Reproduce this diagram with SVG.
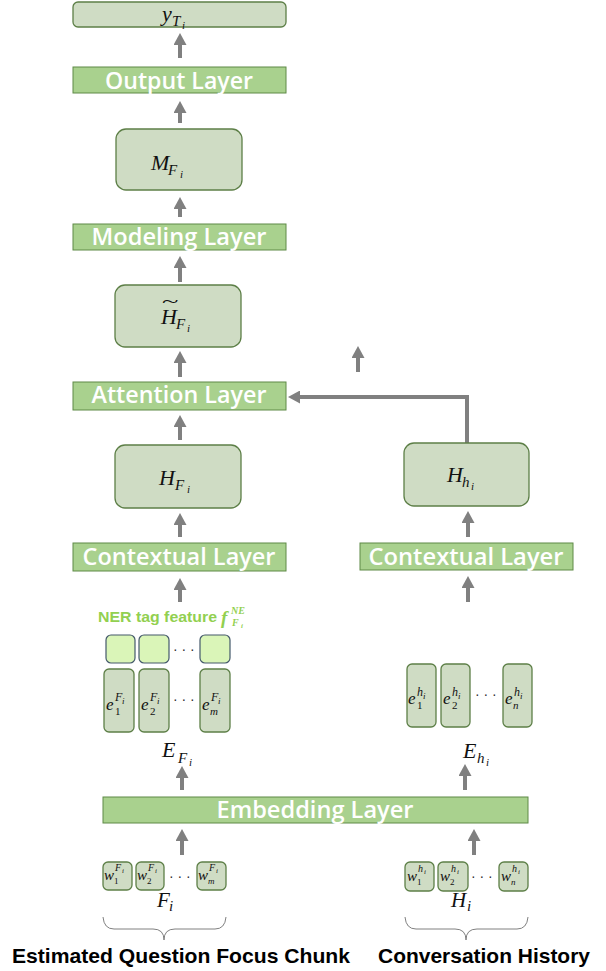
<svg xmlns="http://www.w3.org/2000/svg" width="606" height="971" viewBox="0 0 606 971">
<defs>
<style>
.lay rect{fill:#a9d18e;stroke:#5f8a47;stroke-width:1}
.lay text{fill:#fff;font-family:"Open Sans","Noto Sans",sans-serif;font-weight:600;font-size:24px;text-anchor:middle}
.nd{fill:#cfdcc4;stroke:#5d7f47;stroke-width:1.3}
.ner{fill:#daf5b8;stroke:#44596b;stroke-width:1.2}
.m{font-family:"Liberation Serif","DejaVu Serif",serif;font-style:italic;fill:#111}
.up{font-family:"Liberation Serif","DejaVu Serif",serif;fill:#111}
.dots{font-family:"Liberation Sans",sans-serif;font-size:14px;fill:#333}
.arr{stroke:#808080;stroke-width:4;fill:none;marker-end:url(#ah)}
.brace{stroke:#808080;stroke-width:1;fill:none}
.cap{font-family:"Liberation Sans",Arial,sans-serif;font-weight:bold;font-size:21px;fill:#000}
.g{font-family:"Liberation Serif",serif;font-style:italic;font-weight:bold;fill:#92d050}
</style>
<marker id="ah" markerUnits="userSpaceOnUse" markerWidth="12" markerHeight="13" viewBox="0 0 12 13" refX="1" refY="6.5" orient="auto">
<path d="M0,0 L12,6.5 L0,13 z" fill="#808080"/>
</marker>
</defs>
<rect width="606" height="971" fill="#fff"/>

<g id="connectors">
<line class="arr" x1="180" y1="58" x2="180" y2="44"/>
<line class="arr" x1="180" y1="123" x2="180" y2="112"/>
<line class="arr" x1="180" y1="217" x2="180" y2="208"/>
<line class="arr" x1="180" y1="282" x2="180" y2="267"/>
<line class="arr" x1="180" y1="377" x2="180" y2="362"/>
<line class="arr" x1="180" y1="440" x2="180" y2="426"/>
<line class="arr" x1="180" y1="537" x2="180" y2="524"/>
<line class="arr" x1="180" y1="602" x2="180" y2="589"/>
<line class="arr" x1="182" y1="790" x2="182" y2="777"/>
<line class="arr" x1="182" y1="855" x2="182" y2="840"/>
<line class="arr" x1="465" y1="790" x2="465" y2="775"/>
<line class="arr" x1="474" y1="855" x2="474" y2="840"/>
<line class="arr" x1="468" y1="537" x2="468" y2="522"/>
<line class="arr" x1="468" y1="602" x2="468" y2="587"/>
<line class="arr" x1="358" y1="372" x2="358" y2="357"/>
<polyline class="arr" points="467,443 467,397 299,397"/>
</g>

<g id="yT">
<rect class="nd" x="73" y="2" width="213" height="25" rx="5"/>
<text class="m" x="162" y="21" font-size="22">y</text>
<text class="m" x="172" y="26" font-size="15">T</text>
<text class="m" x="182" y="29" font-size="11">i</text>
</g>

<g id="output" class="lay">
<rect x="73" y="67" width="213" height="26"/>
<text x="179" y="89" textLength="148" lengthAdjust="spacingAndGlyphs">Output Layer</text>
</g>

<g id="MF">
<rect class="nd" x="116" y="129" width="126" height="61" rx="10"/>
<text class="m" x="151" y="170" font-size="22">M</text>
<text class="m" x="168" y="175" font-size="15">F</text>
<text class="m" x="180" y="178" font-size="11">i</text>
</g>

<g id="modeling" class="lay">
<rect x="73" y="224" width="213" height="26"/>
<text x="179" y="245" textLength="175" lengthAdjust="spacingAndGlyphs">Modeling Layer</text>
</g>

<g id="HtF">
<rect class="nd" x="115" y="285" width="126" height="62" rx="10"/>
<text class="up" x="0" y="0" font-size="16" transform="translate(162 307) scale(1.9 1)">~</text>
<text class="m" x="161" y="324" font-size="22">H</text>
<text class="m" x="176" y="329" font-size="15">F</text>
<text class="m" x="187" y="332" font-size="11">i</text>
</g>

<g id="attention" class="lay">
<rect x="73" y="382" width="213" height="28"/>
<text x="179" y="403" textLength="175" lengthAdjust="spacingAndGlyphs">Attention Layer</text>
</g>

<g id="HF">
<rect class="nd" x="115" y="445" width="126" height="63" rx="10"/>
<text class="m" x="159" y="485" font-size="22">H</text>
<text class="m" x="175" y="490" font-size="15">F</text>
<text class="m" x="187" y="493" font-size="11">i</text>
</g>

<g id="ctxL" class="lay">
<rect x="73" y="543" width="213" height="28"/>
<text x="179" y="565" textLength="193" lengthAdjust="spacingAndGlyphs">Contextual Layer</text>
</g>

<g id="Hh">
<rect class="nd" x="404" y="443" width="125" height="63" rx="10"/>
<text class="m" x="447" y="482" font-size="22">H</text>
<text class="m" x="462" y="487" font-size="15">h</text>
<text class="m" x="471" y="490" font-size="11">i</text>
</g>

<g id="ctxR" class="lay">
<rect x="360" y="543" width="213" height="27"/>
<text x="466" y="565" textLength="195" lengthAdjust="spacingAndGlyphs">Contextual Layer</text>
</g>

<g id="ner">
<text x="98" y="622" font-family="Liberation Sans,Arial,sans-serif" font-weight="bold" font-size="15" fill="#92d050" textLength="119" lengthAdjust="spacingAndGlyphs">NER tag feature</text>
<text class="g" x="221" y="624" font-size="19">f</text>
<text class="g" x="231" y="614" font-size="10">NE</text>
<text class="g" x="232" y="626" font-size="10">F</text>
<text class="g" x="241" y="628" font-size="7">i</text>
<rect class="ner" x="106" y="635" width="29" height="28" rx="5"/>
<rect class="ner" x="139" y="635" width="30" height="28" rx="5"/>
<rect class="ner" x="200" y="635" width="30" height="28" rx="5"/>
<text class="dots" x="173" y="654">· · ·</text>
</g>

<g id="eF">
<rect class="nd" x="104" y="669" width="30" height="63" rx="5"/>
<rect class="nd" x="139" y="669" width="30" height="63" rx="5"/>
<rect class="nd" x="200" y="669" width="30" height="63" rx="5"/>
<text class="m" x="106" y="710" font-size="17">e</text>
<text class="m" x="115" y="701" font-size="12">F</text>
<text class="m" x="122" y="704" font-size="9">i</text>
<text class="up" x="115" y="715" font-size="11">1</text>
<text class="m" x="141" y="710" font-size="17">e</text>
<text class="m" x="150" y="701" font-size="12">F</text>
<text class="m" x="157" y="704" font-size="9">i</text>
<text class="up" x="150" y="715" font-size="11">2</text>
<text class="m" x="202" y="710" font-size="17">e</text>
<text class="m" x="211" y="701" font-size="12">F</text>
<text class="m" x="218" y="704" font-size="9">i</text>
<text class="m" x="210" y="715" font-size="11">m</text>
<text class="dots" x="173" y="704">· · ·</text>
<text class="m" x="162" y="757" font-size="22">E</text>
<text class="m" x="178" y="763" font-size="15">F</text>
<text class="m" x="189" y="766" font-size="11">i</text>
</g>

<g id="eh">
<rect class="nd" x="407" y="664" width="29" height="63" rx="5"/>
<rect class="nd" x="441" y="664" width="29" height="63" rx="5"/>
<rect class="nd" x="503" y="664" width="29" height="63" rx="5"/>
<text class="m" x="408" y="704" font-size="17">e</text>
<text class="m" x="417" y="696" font-size="12">h</text>
<text class="m" x="423" y="699" font-size="9">i</text>
<text class="up" x="417" y="709" font-size="11">1</text>
<text class="m" x="443" y="704" font-size="17">e</text>
<text class="m" x="452" y="696" font-size="12">h</text>
<text class="m" x="458" y="699" font-size="9">i</text>
<text class="up" x="452" y="709" font-size="11">2</text>
<text class="m" x="505" y="704" font-size="17">e</text>
<text class="m" x="514" y="696" font-size="12">h</text>
<text class="m" x="520" y="699" font-size="9">i</text>
<text class="m" x="513" y="709" font-size="11">n</text>
<text class="dots" x="475" y="699">· · ·</text>
<text class="m" x="463" y="758" font-size="22">E</text>
<text class="m" x="477" y="763" font-size="15">h</text>
<text class="m" x="486" y="766" font-size="11">i</text>
</g>

<g id="embedding" class="lay">
<rect x="103" y="797" width="425" height="26"/>
<text x="315" y="818" textLength="197" lengthAdjust="spacingAndGlyphs">Embedding Layer</text>
</g>

<g id="wF">
<rect class="nd" x="103" y="862" width="29" height="28" rx="5"/>
<rect class="nd" x="136" y="862" width="28" height="28" rx="5"/>
<rect class="nd" x="197" y="862" width="29" height="28" rx="5"/>
<text class="m" x="104" y="880" font-size="15">w</text>
<text class="m" x="115" y="871" font-size="10">F</text>
<text class="m" x="122" y="873" font-size="7">i</text>
<text class="up" x="114" y="884" font-size="9">1</text>
<text class="m" x="137" y="880" font-size="15">w</text>
<text class="m" x="148" y="871" font-size="10">F</text>
<text class="m" x="155" y="873" font-size="7">i</text>
<text class="up" x="147" y="884" font-size="9">2</text>
<text class="m" x="198" y="880" font-size="15">w</text>
<text class="m" x="209" y="871" font-size="10">F</text>
<text class="m" x="216" y="873" font-size="7">i</text>
<text class="m" x="208" y="884" font-size="9">m</text>
<text class="dots" x="169" y="881">· · ·</text>
<text class="m" x="157" y="907" font-size="21">F</text>
<text class="m" x="169" y="911" font-size="15">i</text>
<path class="brace" d="M103,917 Q104,929 114,929 L153,929 Q164,929 164,940 Q164,929 175,929 L215,929 Q225,929 226,917"/>
<text class="cap" x="12" y="963" textLength="338" lengthAdjust="spacingAndGlyphs">Estimated Question Focus Chunk</text>
</g>

<g id="wh">
<rect class="nd" x="405" y="862" width="29" height="29" rx="5"/>
<rect class="nd" x="438" y="862" width="30" height="29" rx="5"/>
<rect class="nd" x="499" y="862" width="29" height="29" rx="5"/>
<text class="m" x="407" y="881" font-size="15">w</text>
<text class="m" x="418" y="872" font-size="10">h</text>
<text class="m" x="424" y="874" font-size="7">i</text>
<text class="up" x="417" y="885" font-size="9">1</text>
<text class="m" x="440" y="881" font-size="15">w</text>
<text class="m" x="451" y="872" font-size="10">h</text>
<text class="m" x="457" y="874" font-size="7">i</text>
<text class="up" x="450" y="885" font-size="9">2</text>
<text class="m" x="501" y="881" font-size="15">w</text>
<text class="m" x="512" y="872" font-size="10">h</text>
<text class="m" x="518" y="874" font-size="7">i</text>
<text class="m" x="511" y="885" font-size="9">n</text>
<text class="dots" x="471" y="881">· · ·</text>
<text class="m" x="451" y="907" font-size="21">H</text>
<text class="m" x="467" y="911" font-size="15">i</text>
<path class="brace" d="M405,917 Q406,929 416,929 L455,929 Q466,929 466,940 Q466,929 477,929 L517,929 Q527,929 528,917"/>
<text class="cap" x="378" y="963" textLength="212" lengthAdjust="spacingAndGlyphs">Conversation History</text>
</g>
</svg>
